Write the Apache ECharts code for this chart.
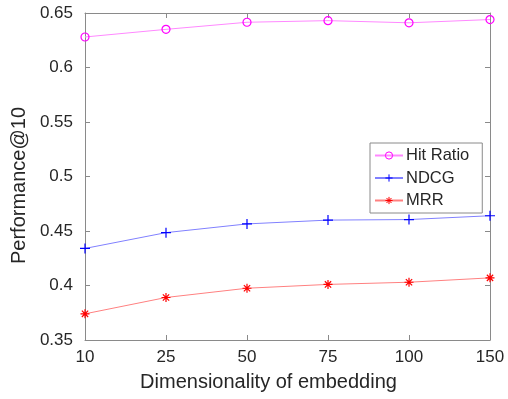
<!DOCTYPE html>
<html><head><meta charset="utf-8">
<script src="https://cdn.jsdelivr.net/npm/echarts@6/dist/echarts.min.js"></script>
<style>html,body{margin:0;padding:0;background:#fff}#c{width:508px;height:399px}</style>
</head><body><div id="c"></div>
<script>
const categories = ['10','25','50','75','100','150'];
const hitRatio = [0.628, 0.635, 0.6415, 0.643, 0.641, 0.644];
const ndcg = [0.434, 0.4485, 0.4565, 0.460, 0.4605, 0.464];
const mrr = [0.374, 0.389, 0.3975, 0.401, 0.403, 0.407];
const yMin = 0.35, yMax = 0.65, yStep = 0.05;

const font = 'Liberation Sans, Arial, sans-serif';
const axisColor = '#8a8a8a';
const textColor = '#262626';
const plus = 'path://M5,0L5,10M0,5L10,5';
const star = 'path://M5,0L5,10M0,5L10,5M1.5,1.5L8.5,8.5M8.5,1.5L1.5,8.5';

const chart = echarts.init(document.getElementById('c'));
function mk(name, data, lineColor, markColor, symbol, size) {
  return {
    name, type: 'line', data, symbol, symbolSize: size,
    showAllSymbol: true,
    lineStyle: {color: lineColor, width: 1},
    itemStyle: {color: 'rgba(0,0,0,0)', borderColor: markColor, borderWidth: 1.2},
    emphasis: {disabled: true},
    animation: false
  };
}
chart.setOption({
  animation: false,
  grid: {left: 85, right: 18, top: 13, bottom: 59},
  legend: {
    orient: 'vertical', left: 370, top: 143,
    itemWidth: 28, itemHeight: 9, itemGap: 5.5,
    padding: [4, 13, 4, 4],
    borderColor: axisColor, borderWidth: 1, backgroundColor: '#fff',
    textStyle: {fontFamily: font, fontSize: 16.5, color: textColor, padding: [0,0,0,-2]},
    itemStyle: {borderWidth: 1},
    data: ['Hit Ratio', 'NDCG', 'MRR']
  },
  xAxis: [{
    type: 'category', data: categories, boundaryGap: false,
    name: 'Dimensionality of embedding', nameLocation: 'middle', nameGap: 32,
    nameTextStyle: {fontFamily: font, fontSize: 20, color: textColor, padding: [0, 38, 0, 0]},
    axisLine: {lineStyle: {color: axisColor}},
    axisTick: {inside: true, length: 5, lineStyle: {color: axisColor}, alignWithLabel: true},
    axisLabel: {fontFamily: font, fontSize: 17, color: textColor, margin: 9},
    splitLine: {show: false}
  }, {
    type: 'category', data: categories, boundaryGap: false, position: 'top',
    axisLine: {lineStyle: {color: axisColor}},
    axisTick: {inside: true, length: 5, lineStyle: {color: axisColor}},
    axisLabel: {show: false}, splitLine: {show: false}
  }],
  yAxis: [{
    type: 'value', min: yMin, max: yMax, interval: yStep,
    name: 'Performance@10', nameLocation: 'middle', nameGap: 46,
    nameTextStyle: {fontFamily: font, fontSize: 20, color: textColor, padding: [0, 18, 0, 0]},
    axisLine: {show: true, lineStyle: {color: axisColor}},
    axisTick: {show: true, inside: true, length: 5, lineStyle: {color: axisColor}},
    axisLabel: {fontFamily: font, fontSize: 17, color: textColor, margin: 12},
    splitLine: {show: false}
  }, {
    type: 'value', min: yMin, max: yMax, interval: yStep, position: 'right',
    axisLine: {show: true, lineStyle: {color: axisColor}},
    axisTick: {show: true, inside: true, length: 5, lineStyle: {color: axisColor}},
    axisLabel: {show: false}, splitLine: {show: false}
  }],
  series: [
    mk('Hit Ratio', hitRatio, '#ff88ff', '#ff00ff', 'circle', 8),
    mk('NDCG', ndcg, '#8080ff', '#0000ff', plus, 10),
    mk('MRR', mrr, '#ff8080', '#ff0000', star, 9)
  ]
});
</script></body></html>
